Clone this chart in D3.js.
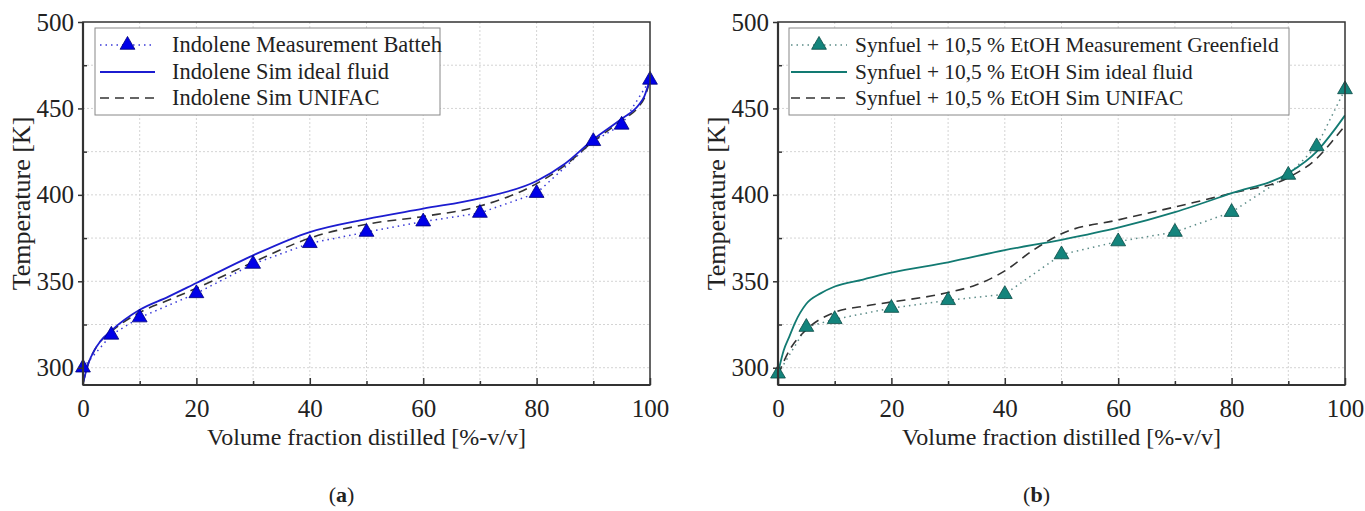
<!DOCTYPE html>
<html><head><meta charset="utf-8">
<script src="https://cdn.jsdelivr.net/npm/d3@7"></script>
<style>body{margin:0;background:#fff} text{font-family:"Liberation Serif","Times New Roman",serif;fill:#222}</style>
</head><body><svg id="c" width="1365" height="511"></svg>
<script>
// ---- data ----
const xTicks = [0, 20, 40, 60, 80, 100];
const yTicks = [300, 350, 400, 450, 500];
const xLabel = "Volume fraction distilled [%-v/v]";
const yLabel = "Temperature [K]";

const measX_a = [0, 5, 10, 20, 30, 40, 50, 60, 70, 80, 90, 95, 100];
const measT_a = [300, 319, 329, 343, 360, 372, 378.5, 384.5, 389.5, 401, 431, 440.5, 466.5];
const simX_a = [0, 1, 2, 3, 5, 10, 15, 20, 30, 40, 50, 60, 70, 80, 85, 90, 95, 98, 99, 100];
const idealT_a = [291, 303, 310, 315, 321.5, 333.5, 341, 349, 365, 378.5, 386, 392, 398, 408, 418, 432, 444, 452, 457, 467];
const unifacT_a = [291, 303, 310, 315, 321, 332, 339, 346, 361, 375, 383, 387.5, 393.5, 406.5, 417, 431, 443, 451, 456, 466];
const legend_a = ["Indolene Measurement Batteh", "Indolene Sim ideal fluid", "Indolene Sim UNIFAC"];

const measX_b = [0, 5, 10, 20, 30, 40, 50, 60, 70, 80, 90, 95, 100];
const measT_b = [296.5, 323.5, 328, 334.5, 339, 342.5, 365.5, 373, 378.5, 390, 411.5, 428, 461];
const simXi_b = [0, 1, 2, 3, 5, 7.5, 10, 15, 20, 30, 40, 50, 60, 70, 80, 90, 95, 98, 100];
const idealT_b = [297, 310, 318, 326, 337, 343, 347, 351, 355, 361, 368, 374, 381, 390, 401, 412.5, 425, 437, 446];
const simXu_b = [0, 2, 5, 10, 15, 20, 30, 35, 40, 45, 50, 60, 70, 80, 90, 95, 98, 100];
const unifacT_b = [296, 310, 322, 332, 335.5, 338, 343.5, 348, 356, 368, 377.5, 385.5, 393, 401, 410, 421, 432, 440];
const legend_b = ["Synfuel + 10,5 % EtOH Measurement Greenfield", "Synfuel + 10,5 % EtOH Sim ideal fluid", "Synfuel + 10,5 % EtOH Sim UNIFAC"];

const svg = d3.select("#c");
const FS = 22, TFS = 25, XFS = 24, YFS = 26;

function panel(o) {
  const g = svg.append("g");
  const x = d3.scaleLinear().domain([0, 100]).range([o.left, o.right]);
  const y = d3.scaleLinear().domain([290, 500]).range([o.bottom, o.top]);

  // grid
  const gx = d3.range(10, 100, 10), gy = d3.range(300, 500, 25);
  g.selectAll(".gx").data(gx).join("line").attr("x1", d => x(d)).attr("x2", d => x(d))
    .attr("y1", o.top).attr("y2", o.bottom).attr("stroke", "#d4d4d4").attr("stroke-width", 1).attr("stroke-dasharray", "2,2");
  g.selectAll(".gy").data(gy).join("line").attr("y1", d => y(d)).attr("y2", d => y(d))
    .attr("x1", o.left).attr("x2", o.right).attr("stroke", "#d4d4d4").attr("stroke-width", 1).attr("stroke-dasharray", "2,2");

  // curves
  const clipId = "clip" + o.id;
  svg.append("clipPath").attr("id", clipId).append("rect")
    .attr("x", o.left).attr("y", o.top).attr("width", o.right - o.left).attr("height", o.bottom - o.top);
  const cg = g.append("g").attr("clip-path", `url(#${clipId})`);
  const lineS = d3.line().x(d => x(d[0])).y(d => y(d[1])).curve(d3.curveMonotoneX);
  const lineL = d3.line().x(d => x(d[0])).y(d => y(d[1]));
  cg.append("path").attr("d", lineL(d3.zip(o.mx, o.mt))).attr("fill", "none")
    .attr("stroke", o.dotCol).attr("stroke-width", 1.5).attr("stroke-dasharray", "1.5,4");
  cg.append("path").attr("d", lineS(d3.zip(o.uxs, o.ut))).attr("fill", "none")
    .attr("stroke", "#333").attr("stroke-width", 1.6).attr("stroke-dasharray", "9,6");
  cg.append("path").attr("d", lineS(d3.zip(o.ixs, o.it))).attr("fill", "none")
    .attr("stroke", o.col).attr("stroke-width", 1.8);
  const tri = d3.symbol().type(d3.symbolTriangle).size(95);
  g.selectAll(".m").data(d3.zip(o.mx, o.mt)).join("path").attr("d", tri)
    .attr("transform", d => `translate(${x(d[0])},${y(d[1])})`)
    .attr("fill", o.fill).attr("stroke", o.edge).attr("stroke-width", 0.8);

  // frame
  g.append("rect").attr("x", o.left).attr("y", o.top).attr("width", o.right - o.left).attr("height", o.bottom - o.top)
    .attr("fill", "none").attr("stroke", "#333").attr("stroke-width", 1.5);
  g.append("line").attr("x1", o.left).attr("x2", o.left).attr("y1", o.top).attr("y2", o.bottom).attr("stroke", "#333").attr("stroke-width", 2.2);
  g.append("line").attr("x1", o.left).attr("x2", o.right).attr("y1", o.bottom).attr("y2", o.bottom).attr("stroke", "#333").attr("stroke-width", 2.2);

  // axes ticks
  const ax = g.append("g").attr("transform", `translate(0,${o.bottom})`)
    .call(d3.axisBottom(x).tickValues(xTicks).tickSize(-7).tickPadding(14).tickFormat(d3.format("d")));
  ax.select(".domain").remove();
  ax.selectAll("line").attr("stroke", "#333").attr("stroke-width", 1.5);
  ax.selectAll("text").attr("font-size", TFS).attr("fill", "#222").attr("font-family", "Liberation Serif");
  const axm = g.append("g").attr("transform", `translate(0,${o.bottom})`)
    .call(d3.axisBottom(x).tickValues(d3.range(10, 100, 20)).tickSize(-4).tickFormat(""));
  axm.select(".domain").remove();
  axm.selectAll("line").attr("stroke", "#333").attr("stroke-width", 1.5);

  const ay = g.append("g").attr("transform", `translate(${o.left},0)`)
    .call(d3.axisLeft(y).tickValues(yTicks).tickSize(5).tickPadding(4).tickFormat(d3.format("d")));
  ay.select(".domain").remove();
  ay.selectAll("line").attr("stroke", "#333").attr("stroke-width", 1.5);
  ay.selectAll("text").attr("font-size", TFS).attr("fill", "#222").attr("font-family", "Liberation Serif");
  const aym = g.append("g").attr("transform", `translate(${o.left},0)`)
    .call(d3.axisLeft(y).tickValues(d3.range(325, 500, 50)).tickSize(-4).tickFormat(""));
  aym.select(".domain").remove();
  aym.selectAll("line").attr("stroke", "#333").attr("stroke-width", 1.5);

  // axis titles
  g.append("text").attr("x", (o.left + o.right) / 2).attr("y", 445).attr("text-anchor", "middle")
    .attr("font-size", XFS).text(xLabel);
  g.append("text").attr("transform", `translate(${o.left - 53},${(o.top + o.bottom) / 2}) rotate(-90)`)
    .attr("text-anchor", "middle").attr("font-size", YFS).text(yLabel);

  // caption
  const cap = g.append("text").attr("x", (o.left + o.right) / 2 - 25).attr("y", 502).attr("text-anchor", "middle").attr("font-size", FS);
  cap.append("tspan").text("(");
  cap.append("tspan").attr("font-weight", "bold").text(o.cap);
  cap.append("tspan").text(")");

  // legend
  const L = o.leg;
  g.append("rect").attr("x", L.x).attr("y", 28).attr("width", L.w).attr("height", 87)
    .attr("fill", "#fff").attr("stroke", "#888").attr("stroke-width", 1);
  const rows = [45, 72, 98];
  const s1 = L.s1, s2 = L.s2;
  g.append("line").attr("x1", s1).attr("x2", s2).attr("y1", rows[0]).attr("y2", rows[0])
    .attr("stroke", o.dotCol).attr("stroke-width", 1.5).attr("stroke-dasharray", "1.5,4");
  g.append("path").attr("d", tri).attr("transform", `translate(${(s1 + s2) / 2},${rows[0]})`)
    .attr("fill", o.fill).attr("stroke", o.edge).attr("stroke-width", 0.8);
  g.append("line").attr("x1", s1).attr("x2", s2).attr("y1", rows[1]).attr("y2", rows[1])
    .attr("stroke", o.col).attr("stroke-width", 1.8);
  g.append("line").attr("x1", s1).attr("x2", s2).attr("y1", rows[2]).attr("y2", rows[2])
    .attr("stroke", "#333").attr("stroke-width", 1.6).attr("stroke-dasharray", "9,6");
  o.labels.forEach((t, i) => {
    g.append("text").attr("x", L.tx).attr("y", rows[i] + 7).attr("font-size", L.fs).text(t);
  });
}

panel({id: "a", left: 83, right: 650, top: 22, bottom: 385, col: "#1c1cd0", dotCol: "#3a3ad8", fill: "#0000e8", edge: "#00007a",
  mx: measX_a, mt: measT_a, ixs: simX_a, it: idealT_a, uxs: simX_a, ut: unifacT_a, labels: legend_a, cap: "a",
  leg: {x: 95, w: 345, s1: 100, s2: 155, tx: 172, fs: 22.4}});
panel({id: "b", left: 778, right: 1345, top: 22, bottom: 385, col: "#127a72", dotCol: "#5c8c88", fill: "#14847c", edge: "#0a4a45",
  mx: measX_b, mt: measT_b, ixs: simXi_b, it: idealT_b, uxs: simXu_b, ut: unifacT_b, labels: legend_b, cap: "b",
  leg: {x: 789, w: 500, s1: 791, s2: 847, tx: 855, fs: 21.4}});
</script></body></html>
